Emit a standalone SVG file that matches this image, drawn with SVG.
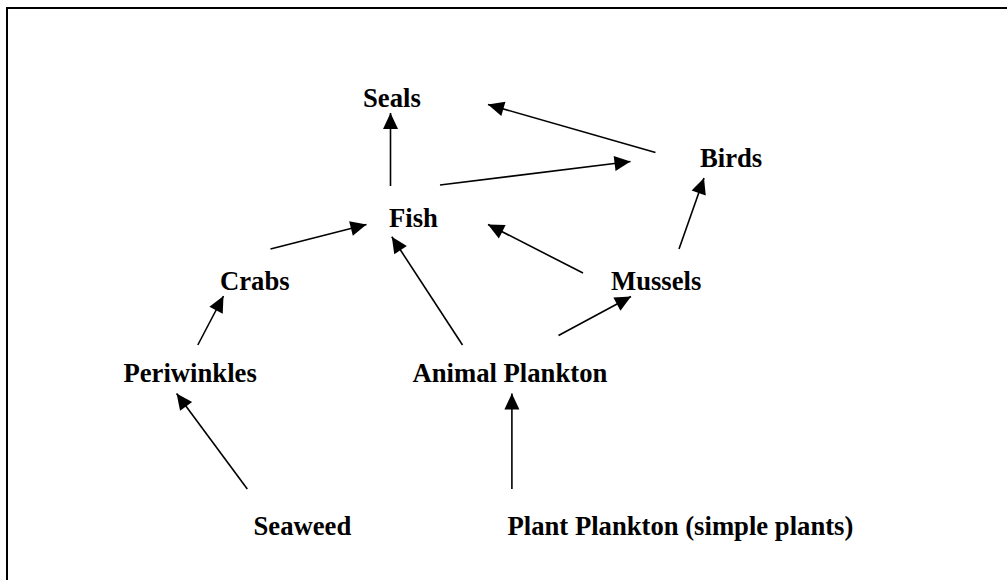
<svg xmlns="http://www.w3.org/2000/svg" width="1007" height="580" viewBox="0 0 1007 580">
<style>
.lbl{font-family:"Liberation Serif","Times New Roman",serif;font-weight:bold;font-size:26.67px;fill:#000}
.edge{stroke:#000;stroke-width:1.6;fill:none;marker-end:url(#ah)}
</style>
<defs>
<marker id="ah" markerUnits="userSpaceOnUse" markerWidth="17" markerHeight="16" refX="16" refY="7.5" orient="auto" overflow="visible">
<path d="M0,0 L16,7.5 L0,15 z" fill="#000"/>
</marker>
</defs>
<rect width="1007" height="580" fill="#fff"/>
<path d="M7,581 L7,8 L1008,8" fill="none" stroke="#000" stroke-width="2"/>
<g id="connectors">
<line class="edge" x1="390.5" y1="186" x2="390.5" y2="113"/>
<line class="edge" x1="440" y1="185" x2="630.5" y2="161.5"/>
<line class="edge" x1="655.5" y1="152.5" x2="488" y2="104.5"/>
<line class="edge" x1="270.5" y1="249" x2="366.5" y2="224.5"/>
<line class="edge" x1="583" y1="273" x2="488" y2="224.5"/>
<line class="edge" x1="679" y1="249" x2="704" y2="178"/>
<line class="edge" x1="462.5" y1="345" x2="391.8" y2="236.8"/>
<line class="edge" x1="558.5" y1="335.5" x2="631" y2="296.5"/>
<line class="edge" x1="197.8" y1="345" x2="223.5" y2="296"/>
<line class="edge" x1="247.3" y1="489" x2="176.6" y2="393.5"/>
<line class="edge" x1="511.9" y1="489" x2="511.9" y2="393.5"/>
</g>
<g id="seals"><text class="lbl" x="363" y="106.5">Seals</text></g>
<g id="birds"><text class="lbl" x="700" y="167">Birds</text></g>
<g id="fish"><text class="lbl" x="389" y="227">Fish</text></g>
<g id="crabs"><text class="lbl" x="220" y="290">Crabs</text></g>
<g id="mussels"><text class="lbl" x="611" y="290">Mussels</text></g>
<g id="periwinkles"><text class="lbl" x="123.5" y="381.5">Periwinkles</text></g>
<g id="animal-plankton"><text class="lbl" x="412.5" y="381.5">Animal Plankton</text></g>
<g id="seaweed"><text class="lbl" x="253.5" y="534.5">Seaweed</text></g>
<g id="plant-plankton"><text class="lbl" x="507.5" y="534.5">Plant Plankton (simple plants)</text></g>
</svg>
